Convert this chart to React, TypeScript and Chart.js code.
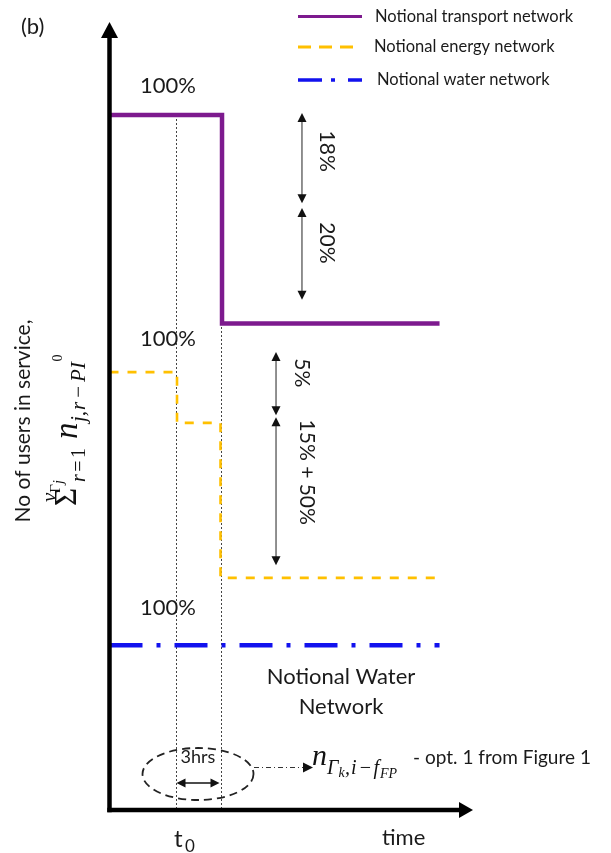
import React, { useEffect, useRef } from 'react';
import { Chart, registerables } from 'chart.js';

Chart.register(...registerables);

// ---- data (time in hours relative to t0, level in schematic diagram units) ----
const seriesNames = ['Notional transport network', 'Notional energy network', 'Notional water network'];
const transportTimes = [-4.4, 3.1, 17.6];
const transportLevels = [100, 70, 70];
const energyTimes = [-4.4, 0.1, 3, 17.6];
const energyLevels = [63, 55.7, 33.4, 33.4];
const waterTimes = [-4.4, 17.6];
const waterLevels = [23.7, 23.7];
const markerTimes = [0, 3]; // t0 and t0 + 3hrs
const startLabels = ['100%', '100%', '100%'];
const transportDropLabels = ['18%', '20%'];
const transportDropFrom = [100.3, 86.6];
const transportDropTo = [87.3, 73.4];
const transportDropLabelAt = [94.8, 81.6];
const energyDropLabels = ['5%', '15% + 50%'];
const energyDropFrom = [65.9, 56.5];
const energyDropTo = [56.8, 35.2];
const energyDropLabelAt = [62.9, 48.6];

const PURPLE = '#7d1a8e';
const GOLD = '#ffc000';
const BLUE = '#1212ee';
const SANS = 'Lato, "Open Sans", sans-serif';
const MATH = '"Liberation Serif", "DejaVu Serif", serif';

function arrowHead(ctx: CanvasRenderingContext2D, x: number, y: number, dx: number, dy: number, len: number, half: number) {
  const bx = x - dx * len, by = y - dy * len;
  ctx.beginPath();
  ctx.moveTo(x, y);
  ctx.lineTo(bx - dy * half, by + dx * half);
  ctx.lineTo(bx + dy * half, by - dx * half);
  ctx.closePath();
  ctx.fill();
}

function doubleArrowV(ctx: CanvasRenderingContext2D, x: number, y1: number, y2: number) {
  ctx.save();
  ctx.strokeStyle = '#222';
  ctx.fillStyle = '#111';
  ctx.lineWidth = 1;
  ctx.setLineDash([]);
  ctx.beginPath();
  ctx.moveTo(x, y1 + 6);
  ctx.lineTo(x, y2 - 6);
  ctx.stroke();
  arrowHead(ctx, x, y1, 0, -1, 9, 4.5);
  arrowHead(ctx, x, y2, 0, 1, 9, 4.5);
  ctx.restore();
}

function rotText(ctx: CanvasRenderingContext2D, text: string, x: number, y: number, angle: number, font: string) {
  ctx.save();
  ctx.translate(x, y);
  ctx.rotate(angle);
  ctx.font = font;
  ctx.textAlign = 'center';
  ctx.textBaseline = 'middle';
  ctx.fillText(text, 0, 0);
  ctx.restore();
}

type Run = { t: string; font: string; dy: number; x?: number; gap?: number };
function runs(ctx: CanvasRenderingContext2D, list: Run[], x0: number) {
  let x = x0;
  ctx.textAlign = 'left';
  ctx.textBaseline = 'alphabetic';
  for (const r of list) {
    if (r.x !== undefined) x = x0 + r.x;
    x += r.gap || 0;
    ctx.font = r.font;
    ctx.fillText(r.t, x, r.dy);
    x += ctx.measureText(r.t).width + (r.gap || 0);
  }
}

const diagramPlugin = {
  id: 'diagram',
  beforeDatasetsDraw(chart: any) {
    const ctx: CanvasRenderingContext2D = chart.ctx;
    const xs = chart.scales.x, ys = chart.scales.y;
    ctx.save();
    ctx.strokeStyle = '#444';
    ctx.lineWidth = 1;
    ctx.setLineDash([2, 2]);
    for (const t of markerTimes) {
      const px = Math.round(xs.getPixelForValue(t)) + 0.5;
      ctx.beginPath();
      ctx.moveTo(px, ys.getPixelForValue(transportLevels[0]));
      ctx.lineTo(px, ys.getPixelForValue(0));
      ctx.stroke();
    }
    ctx.restore();
  },
  afterDatasetsDraw(chart: any) {
    const ctx: CanvasRenderingContext2D = chart.ctx;
    const xs = chart.scales.x, ys = chart.scales.y;
    const ca = chart.chartArea;
    ctx.save();
    // axes
    ctx.strokeStyle = '#000';
    ctx.fillStyle = '#000';
    ctx.lineWidth = 4.5;
    ctx.setLineDash([]);
    ctx.beginPath();
    ctx.moveTo(ca.left, ca.bottom + 2.2);
    ctx.lineTo(ca.left, ca.top + 14);
    ctx.stroke();
    arrowHead(ctx, ca.left, ca.top, 0, -1, 16, 8.5);
    ctx.beginPath();
    ctx.moveTo(ca.left - 2.2, ca.bottom);
    ctx.lineTo(ca.right - 12, ca.bottom);
    ctx.stroke();
    arrowHead(ctx, ca.right, ca.bottom, 1, 0, 14, 8);

    // start labels
    ctx.fillStyle = '#1a1a1a';
    const starts = [transportLevels[0], energyLevels[0], waterLevels[0]];
    const offs = [-29, -33, -37];
    ctx.font = `22px ${SANS}`;
    ctx.textAlign = 'center';
    ctx.textBaseline = 'middle';
    starts.forEach((lv, i) => {
      ctx.fillText(startLabels[i], xs.getPixelForValue(-0.5), ys.getPixelForValue(lv) + offs[i]);
    });

    // drop arrows
    const tArrowX = xs.getPixelForValue(8.43);
    transportDropLabels.forEach((lab, i) => {
      doubleArrowV(ctx, tArrowX, ys.getPixelForValue(transportDropFrom[i]), ys.getPixelForValue(transportDropTo[i]));
      rotText(ctx, lab, tArrowX + 25, ys.getPixelForValue(transportDropLabelAt[i]), Math.PI / 2, `21px ${SANS}`);
    });
    const eArrowX = xs.getPixelForValue(6.7);
    energyDropLabels.forEach((lab, i) => {
      doubleArrowV(ctx, eArrowX, ys.getPixelForValue(energyDropFrom[i]), ys.getPixelForValue(energyDropTo[i]));
      rotText(ctx, lab, eArrowX + (i === 0 ? 26 : 31), ys.getPixelForValue(energyDropLabelAt[i]), Math.PI / 2, `21px ${SANS}`);
    });

    // (b)
    ctx.fillStyle = '#1a1a1a';
    ctx.font = `22px ${SANS}`;
    ctx.textAlign = 'left';
    ctx.textBaseline = 'middle';
    ctx.fillText('(b)', 21, 27);

    // legend
    const rows = [
      { y: 16.5, tx: 375, x2: 362, dash: [] as number[], w: 3, c: PURPLE },
      { y: 47, tx: 374, x2: 355, dash: [13, 8], w: 3, c: GOLD },
      { y: 80, tx: 377, x2: 362, dash: [24, 9, 4, 13], w: 3.5, c: BLUE },
    ];
    rows.forEach((r, i) => {
      ctx.strokeStyle = r.c;
      ctx.lineWidth = r.w;
      ctx.setLineDash(r.dash);
      ctx.beginPath();
      ctx.moveTo(298, r.y);
      ctx.lineTo(r.x2, r.y);
      ctx.stroke();
      ctx.setLineDash([]);
      ctx.fillStyle = '#1a1a1a';
      ctx.font = `16.5px ${SANS}`;
      ctx.textAlign = 'left';
      ctx.textBaseline = 'middle';
      ctx.fillText(seriesNames[i], r.tx, r.y);
    });

    // y label
    rotText(ctx, 'No of users in service,', 23, 421, -Math.PI / 2, `21px ${SANS}`);
    // formula (rotated)
    ctx.save();
    ctx.translate(76, 507);
    ctx.rotate(-Math.PI / 2);
    ctx.fillStyle = '#111';
    runs(ctx, [{ t: '\u03A3', font: `31px ${MATH}`, dy: 0, x: 1 }], 0);
    runs(ctx, [
      { t: 'v', font: `italic 21px ${MATH}`, dy: -20, x: 5 },
      { t: '\u0393', font: `15px ${MATH}`, dy: -16 },
      { t: 'j', font: `italic 14px ${MATH}`, dy: -13 },
    ], 0);
    runs(ctx, [
      { t: 'r', font: `italic 20px ${MATH}`, dy: 9, x: 25 },
      { t: '=', font: `20px ${MATH}`, dy: 9, gap: 2.5 },
      { t: '1', font: `20px ${MATH}`, dy: 9 },
    ], 0);
    runs(ctx, [
      { t: 'n', font: `italic 33px ${MATH}`, dy: 1, x: 68 },
      { t: 'j,', font: `italic 21px ${MATH}`, dy: 9, gap: 0.5 },
      { t: 'r', font: `italic 21px ${MATH}`, dy: 9, gap: 0.5 },
      { t: '\u2212', font: `21px ${MATH}`, dy: 9, gap: 3.5 },
      { t: 'PI', font: `italic 21px ${MATH}`, dy: 9, gap: 0.5 },
      { t: '0', font: `14px ${MATH}`, dy: -14 },
    ], 0);
    ctx.restore();

    // Notional Water Network
    ctx.fillStyle = '#1a1a1a';
    ctx.font = `22px ${SANS}`;
    ctx.textAlign = 'center';
    ctx.textBaseline = 'alphabetic';
    ctx.fillText('Notional Water', 341, 684);
    ctx.fillText('Network', 341, 714);

    // ellipse with 3hrs
    const t0x = xs.getPixelForValue(markerTimes[0]);
    const t1x = xs.getPixelForValue(markerTimes[1]);
    ctx.strokeStyle = '#222';
    ctx.lineWidth = 1.8;
    ctx.setLineDash([8, 5]);
    ctx.beginPath();
    ctx.ellipse((t0x + t1x) / 2, 774, 55.5, 26, 0, 0, Math.PI * 2);
    ctx.stroke();
    ctx.setLineDash([]);
    ctx.font = `18px ${SANS}`;
    ctx.fillStyle = '#1a1a1a';
    ctx.textAlign = 'center';
    ctx.fillText('3hrs', (t0x + t1x) / 2, 763);
    ctx.strokeStyle = '#111';
    ctx.fillStyle = '#111';
    ctx.lineWidth = 1.5;
    ctx.beginPath();
    ctx.moveTo(t0x + 6, 783);
    ctx.lineTo(t1x - 6, 783);
    ctx.stroke();
    arrowHead(ctx, t0x + 1, 783, -1, 0, 9, 4.5);
    arrowHead(ctx, t1x - 1, 783, 1, 0, 9, 4.5);

    // dash-dot pointer
    ctx.strokeStyle = '#333';
    ctx.lineWidth = 1;
    ctx.setLineDash([5, 3, 1, 3]);
    ctx.beginPath();
    ctx.moveTo(254, 767.5);
    ctx.lineTo(304, 767.5);
    ctx.stroke();
    ctx.setLineDash([]);
    ctx.fillStyle = '#111';
    arrowHead(ctx, 313, 767.5, 1, 0, 10, 5);

    // bottom formula + note
    ctx.fillStyle = '#111';
    runs(ctx, [
      { t: 'n', font: `italic 30px ${MATH}`, dy: 765, x: 0 },
      { t: '\u0393', font: `italic 20px ${MATH}`, dy: 774 },
      { t: 'k', font: `italic 14px ${MATH}`, dy: 777 },
      { t: ',', font: `italic 20px ${MATH}`, dy: 774, gap: 0.5 },
      { t: 'i', font: `italic 20px ${MATH}`, dy: 774, gap: 0.5 },
      { t: '\u2212', font: `20px ${MATH}`, dy: 774, gap: 2.5 },
      { t: 'f', font: `italic 20px ${MATH}`, dy: 774 },
      { t: 'FP', font: `italic 14px ${MATH}`, dy: 778, gap: 1 },
    ], 312);
    ctx.font = `19px ${SANS}`;
    ctx.textAlign = 'left';
    ctx.fillStyle = '#1a1a1a';
    ctx.fillText('- opt. 1 from Figure 1', 413, 764);

    // t0 and time
    ctx.font = `24px ${SANS}`;
    ctx.fillText('t', 174, 847);
    ctx.font = `17px ${SANS}`;
    ctx.fillText('0', 185, 852);
    ctx.font = `22px ${SANS}`;
    ctx.fillText('time', 382, 845);

    ctx.restore();
  },
};

export default function App() {
  const ref = useRef<HTMLCanvasElement>(null);
  useEffect(() => {
    document.body.style.margin = '0';
    const canvas = ref.current!;
    const mk = (ts: number[], ls: number[]) => ts.map((t, i) => ({ x: t, y: ls[i] }));
    const chart = new Chart(canvas, {
      type: 'line',
      data: {
        datasets: [
          { label: seriesNames[0], data: mk(transportTimes, transportLevels), borderColor: PURPLE, borderWidth: 4.5, stepped: 'before', pointRadius: 0, clip: false, fill: false, borderJoinStyle: 'miter', borderCapStyle: 'butt' } as any,
          { label: seriesNames[1], data: mk(energyTimes, energyLevels), borderColor: GOLD, borderWidth: 2.6, borderDash: [9, 9], stepped: 'before', pointRadius: 0, clip: false, fill: false, borderCapStyle: 'butt' } as any,
          { label: seriesNames[2], data: mk(waterTimes, waterLevels), borderColor: BLUE, borderWidth: 4.5, borderDash: [33, 14, 4, 14], pointRadius: 0, clip: false, fill: false, borderCapStyle: 'butt' } as any,
        ],
      },
      options: {
        responsive: false,
        animation: false,
        events: [],
        layout: { padding: { left: 109.5, right: 138, top: 22, bottom: 43 } },
        scales: {
          x: { type: 'linear', min: -4.4, max: 19.83, display: false },
          y: { type: 'linear', min: 0, max: 113.38, display: false },
        },
        plugins: { legend: { display: false }, tooltip: { enabled: false } },
      },
      plugins: [diagramPlugin],
    });
    return () => chart.destroy();
  }, []);
  return <canvas ref={ref} width={611} height={853} style={{ display: 'block' }} />;
}
